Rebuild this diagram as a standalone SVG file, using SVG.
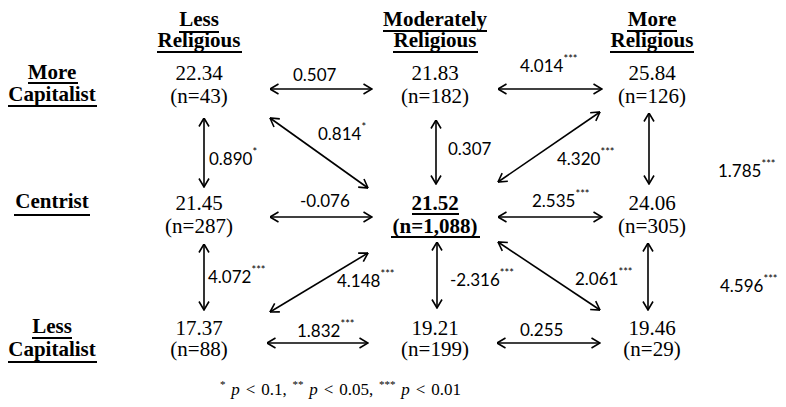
<svg xmlns="http://www.w3.org/2000/svg" width="786" height="407" viewBox="0 0 786 407">
<defs>
<style>
.h{font-family:'Liberation Serif','Times New Roman','DejaVu Serif',Times,serif;font-weight:bold;font-size:21px;text-anchor:middle;fill:#000}
.v{font-family:'Liberation Serif','Times New Roman','DejaVu Serif',Times,serif;font-size:21px;text-anchor:middle;fill:#000}
.vb{font-family:'Liberation Serif','Times New Roman','DejaVu Serif',Times,serif;font-weight:bold;font-size:21px;text-anchor:middle;fill:#000}
.ul{stroke:#000;stroke-width:2}
.l{font-family:Lato,'Noto Sans',sans-serif;font-size:17px;fill:#000}
.s{font-size:11px}
.a{stroke:#000;stroke-width:1.6;fill:none;marker-start:url(#ah);marker-end:url(#ah)}
.f{font-family:'Liberation Serif','Times New Roman','DejaVu Serif',Times,serif;font-size:17px;fill:#000;word-spacing:1.6px}
</style>
<marker id="ah" viewBox="0 0 10 12" refX="9.5" refY="6" markerWidth="10" markerHeight="12" markerUnits="userSpaceOnUse" orient="auto-start-reverse">
<path d="M1,1 L9.5,6 L1,11" fill="none" stroke="#000" stroke-width="1.6"/>
</marker>
</defs>
<rect width="786" height="407" fill="#fff"/>

<g id="col-less-religious">
<text class="h" x="199" y="26">Less</text>
<line class="ul" x1="179" y1="32" x2="219" y2="32"/>
<text class="h" x="199" y="47">Religious</text>
<line class="ul" x1="157" y1="52" x2="242" y2="52"/>
</g>
<g id="col-moderately-religious">
<text class="h" x="435" y="26">Moderately</text>
<line class="ul" x1="383" y1="31" x2="487" y2="31"/>
<text class="h" x="435" y="47">Religious</text>
<line class="ul" x1="393" y1="52" x2="478" y2="52"/>
</g>
<g id="col-more-religious">
<text class="h" x="652" y="26">More</text>
<line class="ul" x1="627" y1="31" x2="677" y2="31"/>
<text class="h" x="652" y="47">Religious</text>
<line class="ul" x1="610" y1="52" x2="694" y2="52"/>
</g>
<g id="row-more-capitalist">
<text class="h" x="52" y="79">More</text>
<line class="ul" x1="28" y1="83" x2="78" y2="83"/>
<text class="h" x="52" y="101">Capitalist</text>
<line class="ul" x1="8" y1="106" x2="97" y2="106"/>
</g>
<g id="row-centrist">
<text class="h" x="52" y="208">Centrist</text>
<line class="ul" x1="14" y1="215" x2="90" y2="215"/>
</g>
<g id="row-less-capitalist">
<text class="h" x="52" y="333">Less</text>
<line class="ul" x1="32" y1="338" x2="72" y2="338"/>
<text class="h" x="52" y="356">Capitalist</text>
<line class="ul" x1="8" y1="362" x2="97" y2="362"/>
</g>

<g id="n-morecap-lessrel"><text class="v" x="199" y="80">22.34</text><text class="v" x="199" y="103">(n=43)</text></g>
<g id="n-morecap-modrel"><text class="v" x="435" y="80">21.83</text><text class="v" x="435" y="103">(n=182)</text></g>
<g id="n-morecap-morerel"><text class="v" x="652" y="80">25.84</text><text class="v" x="652" y="103">(n=126)</text></g>
<g id="n-centrist-lessrel"><text class="v" x="199" y="210">21.45</text><text class="v" x="199" y="233">(n=287)</text></g>
<g id="n-centrist-modrel">
<text class="vb" x="435" y="210">21.52</text>
<line class="ul" x1="412" y1="214" x2="459" y2="214"/>
<text class="vb" x="435" y="233">(n=1,088)</text>
<line class="ul" x1="391" y1="237" x2="480" y2="237"/>
</g>
<g id="n-centrist-morerel"><text class="v" x="652" y="210">24.06</text><text class="v" x="652" y="233">(n=305)</text></g>
<g id="n-lesscap-lessrel"><text class="v" x="199" y="335">17.37</text><text class="v" x="199" y="356">(n=88)</text></g>
<g id="n-lesscap-modrel"><text class="v" x="435" y="335">19.21</text><text class="v" x="435" y="356">(n=199)</text></g>
<g id="n-lesscap-morerel"><text class="v" x="652" y="335">19.46</text><text class="v" x="652" y="356">(n=29)</text></g>

<g id="connectors">
<line class="a" x1="270" y1="89" x2="372" y2="89"/>
<line class="a" x1="498" y1="89" x2="602" y2="89"/>
<line class="a" x1="270" y1="217" x2="372" y2="217"/>
<line class="a" x1="498" y1="217" x2="602" y2="217"/>
<line class="a" x1="267" y1="343" x2="368" y2="343"/>
<line class="a" x1="497" y1="343" x2="600" y2="343"/>
<line class="a" x1="204" y1="118" x2="204" y2="187"/>
<line class="a" x1="204" y1="244" x2="204" y2="310"/>
<line class="a" x1="436" y1="120" x2="436" y2="184"/>
<line class="a" x1="437" y1="242" x2="437" y2="308"/>
<line class="a" x1="649" y1="113" x2="649" y2="184"/>
<line class="a" x1="648" y1="243" x2="648" y2="310"/>
<line class="a" x1="270" y1="118" x2="368" y2="188"/>
<line class="a" x1="600" y1="112" x2="498" y2="182"/>
<line class="a" x1="368" y1="253" x2="270" y2="312"/>
<line class="a" x1="498" y1="242" x2="600" y2="310"/>

<text class="l" x="293" y="81">0.507</text>
<text class="l" x="520" y="72">4.014<tspan class="s" dy="-9">***</tspan></text>
<text class="l" x="318" y="140">0.814<tspan class="s" dy="-9">*</tspan></text>
<text class="l" x="209" y="165">0.890<tspan class="s" dy="-9">*</tspan></text>
<text class="l" x="448" y="155">0.307</text>
<text class="l" x="557" y="165">4.320<tspan class="s" dy="-9">***</tspan></text>
<text class="l" x="718" y="177">1.785<tspan class="s" dy="-9">***</tspan></text>
<text class="l" x="300" y="207">-0.076</text>
<text class="l" x="532" y="207">2.535<tspan class="s" dy="-9">***</tspan></text>
<text class="l" x="208" y="283">4.072<tspan class="s" dy="-9">***</tspan></text>
<text class="l" x="337" y="287">4.148<tspan class="s" dy="-9">***</tspan></text>
<text class="l" x="450" y="286">-2.316<tspan class="s" dy="-9">***</tspan></text>
<text class="l" x="575" y="285">2.061<tspan class="s" dy="-9">***</tspan></text>
<text class="l" x="720" y="292">4.596<tspan class="s" dy="-9">***</tspan></text>
<text class="l" x="297" y="337">1.832<tspan class="s" dy="-9">***</tspan></text>
<text class="l" x="520" y="336">0.255</text>
</g>

<g id="footnote">
<text class="f" x="220" y="395"><tspan font-size="11" dy="-7">*</tspan><tspan dy="7" font-style="italic"> p</tspan> &lt; 0.1, <tspan font-size="11" dy="-7">**</tspan><tspan dy="7" font-style="italic"> p</tspan> &lt; 0.05, <tspan font-size="11" dy="-7">***</tspan><tspan dy="7" font-style="italic"> p</tspan> &lt; 0.01</text>
</g>
</svg>
